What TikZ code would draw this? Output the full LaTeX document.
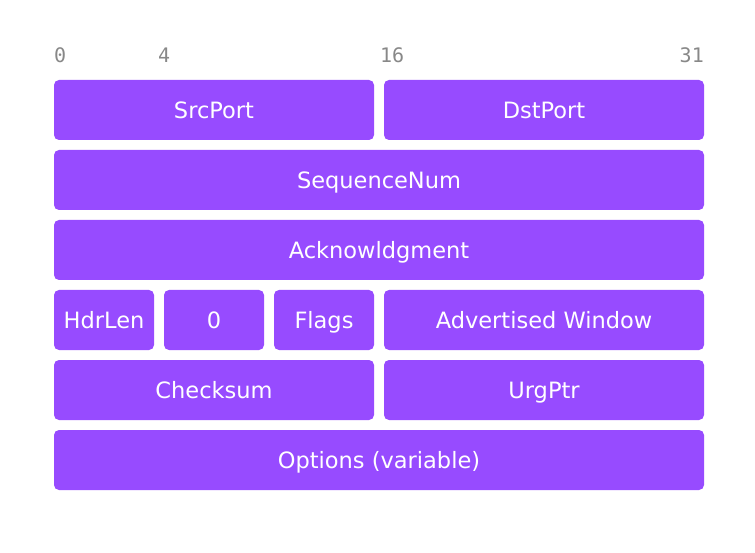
\documentclass[tikz,border=0pt]{standalone}
\usepackage{fontspec}
\setmainfont{DejaVu Sans}
\setmonofont{DejaVu Sans Mono}
\usepackage{tikz}
\usepackage{xcolor}
\usetikzlibrary{positioning,calc}

\definecolor{fieldpurple}{RGB}{151,75,255}
\definecolor{bitgray}{RGB}{136,136,136}

\begin{document}
\begin{tikzpicture}[
    x=1pt, y=-1pt,
    node distance=10pt,
    field/.style={fill=fieldpurple, rounded corners=5pt, minimum height=60pt, inner sep=0pt, outer sep=0pt,
                  text height=21pt, text depth=4pt,
                  text=white, font=\fontsize{22.5}{26}\selectfont},
    full/.style={field, minimum width=650pt},
    half/.style={field, minimum width=320pt},
    small/.style={field, minimum width=100pt},
    bit/.style={text=bitgray, inner sep=0pt, font=\ttfamily\fontsize{20}{24}\selectfont}
]
\useasboundingbox (0,0) rectangle (755,553);

% bit positions
\node[bit, anchor=base west] (b0) at (54,63) {0};
\node[bit, anchor=base west] (b4) at (158,63) {4};
\node[bit, anchor=base west] (b16) at (380,63) {16};
\node[bit, anchor=base east] (b31) at (704,63) {31};

% header rows
\node[half, anchor=north west] (srcport) at (54,80) {SrcPort};
\node[half, right=of srcport] (dstport) {DstPort};
\node[full, below=of srcport.south west, anchor=north west] (seqnum) {SequenceNum};
\node[full, below=of seqnum] (ack) {Acknowldgment};
\node[small, below=of ack.south west, anchor=north west] (hdrlen) {HdrLen};
\node[small, right=of hdrlen] (zero) {0};
\node[small, right=of zero] (flags) {Flags};
\node[half, right=of flags] (window) {Advertised Window};
\node[half, below=of hdrlen.south west, anchor=north west] (checksum) {Checksum};
\node[half, right=of checksum] (urgptr) {UrgPtr};
\node[full, below=of checksum.south west, anchor=north west] (options) {Options (variable)};

\end{tikzpicture}
\end{document}
